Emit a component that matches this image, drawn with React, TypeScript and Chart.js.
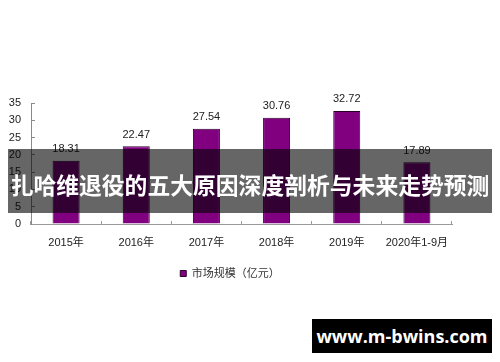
import React, { useEffect, useRef } from "react";
import { Chart, registerables } from "chart.js";

Chart.register(...registerables);

const categories = ["2015年", "2016年", "2017年", "2018年", "2019年", "2020年1-9月"];
const marketSize = [18.31, 22.47, 27.54, 30.76, 32.72, 17.89];
const seriesLabel = "市场规模（亿元）";
const yTicks = [0, 5, 10, 15, 20, 25, 30, 35];
const titleText = "扎哈维退役的五大原因深度剖析与未来走势预测";
const watermarkText = "www.m-bwins.com";

const FONT = "'Liberation Sans', Arial, 'Noto Sans CJK SC', sans-serif";

const valueLabels = {
  id: "valueLabels",
  afterDatasetsDraw(chart: any) {
    const ctx = chart.ctx;
    const meta = chart.getDatasetMeta(0);
    ctx.save();
    ctx.font = `11px ${FONT}`;
    ctx.fillStyle = "#222";
    ctx.textAlign = "center";
    ctx.textBaseline = "bottom";
    meta.data.forEach((bar: any, i: number) => {
      ctx.fillText(marketSize[i].toFixed(2), bar.x, bar.y - 6);
    });
    ctx.restore();
  },
};

export default function App() {
  const ref = useRef<HTMLCanvasElement>(null);
  useEffect(() => {
    if (!ref.current) return;
    const chart = new Chart(ref.current, {
      type: "bar",
      data: {
        labels: categories,
        datasets: [
          {
            label: seriesLabel,
            data: marketSize,
            backgroundColor: "#800080",
            borderColor: "#2a002a",
            borderWidth: 1,
            categoryPercentage: 1,
            barPercentage: 0.385,
          },
        ],
      },
      options: {
        animation: false,
        responsive: false,
        maintainAspectRatio: false,
        layout: { padding: { left: 8, right: 48, top: 103, bottom: 73 } },
        plugins: {
          tooltip: { enabled: false },
          legend: {
            display: true,
            position: "bottom",
            labels: {
              boxWidth: 6,
              boxHeight: 6,
              color: "#333",
              font: { family: FONT, size: 11 },
              padding: 10,
            },
          },
        },
        scales: {
          x: {
            grid: {
              display: true,
              drawOnChartArea: false,
              drawTicks: true,
              tickLength: -3,
              color: "#9a9a9a",
              offset: true,
            },
            border: { display: true, color: "#9a9a9a" },
            ticks: {
              color: "#222",
              font: { family: FONT, size: 11 },
              padding: 15,
              maxRotation: 0,
              autoSkip: false,
            },
            afterFit: (s: any) => {
              s.height = 34;
            },
          },
          y: {
            min: 0,
            max: 35,
            afterBuildTicks: (s: any) => {
              s.ticks = yTicks.map((v) => ({ value: v }));
            },
            grid: {
              display: true,
              drawOnChartArea: false,
              drawTicks: true,
              tickLength: -4,
              color: "#8a8a8a",
            },
            border: { display: true, color: "#8a8a8a" },
            ticks: {
              color: "#222",
              font: { family: FONT, size: 11 },
              padding: 14,
            },
            afterFit: (s: any) => {
              s.width = 23;
            },
          },
        },
      },
      plugins: [valueLabels],
    });
    return () => chart.destroy();
  }, []);

  return (
    <div style={{ position: "absolute", left: 0, top: 0, width: 500, height: 362, background: "#fff", overflow: "hidden" }}>
      <canvas ref={ref} width={500} height={362} style={{ position: "absolute", left: 0, top: 0, width: 500, height: 362 }} />
      <div
        style={{
          position: "absolute",
          left: 8,
          top: 149,
          width: 484,
          height: 64,
          background: "rgba(0,0,0,0.6)",
          color: "#fff",
          fontFamily: "'Noto Sans CJK SC', sans-serif",
          fontWeight: 700,
          fontSize: 22.8,
          lineHeight: "64px",
          textAlign: "center",
          whiteSpace: "nowrap",
          paddingTop: 4,
          boxSizing: "border-box",
        }}
      >
        {titleText}
      </div>
      <div
        style={{
          position: "absolute",
          left: 312,
          top: 319,
          width: 180,
          height: 34,
          background: "#000",
          color: "#fff",
          fontFamily: "'Open Sans', 'DejaVu Sans', sans-serif",
          fontWeight: 700,
          fontSize: 18,
          lineHeight: "34px",
          textAlign: "center",
          whiteSpace: "nowrap",
        }}
      >
        {watermarkText}
      </div>
    </div>
  );
}
